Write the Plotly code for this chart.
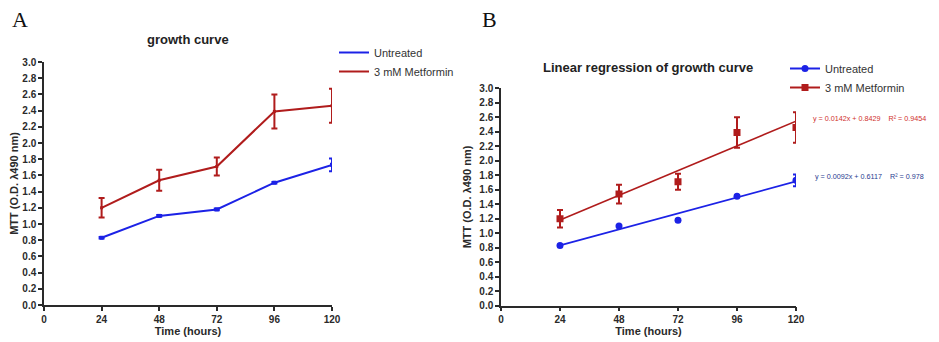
import plotly.graph_objects as go

# ---- data ----
hours = [24, 48, 72, 96, 120]
untreated = [0.83, 1.10, 1.18, 1.51, 1.73]
untreated_err = [0.01, 0.01, 0.01, 0.01, 0.08]
metformin = [1.20, 1.54, 1.71, 2.39, 2.46]
metformin_err = [0.12, 0.13, 0.11, 0.21, 0.21]
x_ticks = [0, 24, 48, 72, 96, 120]
y_ticks = [round(0.2 * i, 1) for i in range(16)]
# regression equations printed on the chart
fit_x = [24, 120]
red_slope, red_int, red_r2 = 0.0142, 0.8429, "0.9454"
blue_slope, blue_int, blue_r2 = 0.0092, 0.6117, "0.978"

BLUE = "#1c22e6"
RED = "#b01c1c"
AX = "#2a2a2a"
FONT = "Liberation Sans, Arial, sans-serif"

# page body has an 8px margin; lay out in window pixel coordinates
OFF = 8
W, H = 939 - OFF, 342 - OFF
def px(x):
    return (x - OFF) / W
def py(y):
    return 1 - (y - OFF) / H

fig = go.Figure()

# ---- Panel A ----
fig.add_trace(go.Scatter(
    x=hours, y=untreated, mode="lines+markers", showlegend=False,
    line=dict(color=BLUE, width=2), marker=dict(symbol="square", size=4, color=BLUE),
    error_y=dict(type="data", array=untreated_err, color=BLUE, thickness=2, width=3),
    xaxis="x", yaxis="y"))
fig.add_trace(go.Scatter(
    x=hours, y=metformin, mode="lines+markers", showlegend=False,
    line=dict(color=RED, width=2), marker=dict(symbol="square", size=3, color=RED),
    error_y=dict(type="data", array=metformin_err, color=RED, thickness=2, width=3),
    xaxis="x", yaxis="y"))
fig.add_trace(go.Scatter(
    x=[None], y=[None], mode="lines", name="Untreated",
    line=dict(color=BLUE, width=2), xaxis="x", yaxis="y", legend="legend"))
fig.add_trace(go.Scatter(
    x=[None], y=[None], mode="lines", name="3 mM Metformin",
    line=dict(color=RED, width=2), xaxis="x", yaxis="y", legend="legend"))

# ---- Panel B ----
fig.add_trace(go.Scatter(
    x=fit_x, y=[blue_slope * v + blue_int for v in fit_x], mode="lines",
    line=dict(color=BLUE, width=1.6), showlegend=False, xaxis="x2", yaxis="y2"))
fig.add_trace(go.Scatter(
    x=fit_x, y=[red_slope * v + red_int for v in fit_x], mode="lines",
    line=dict(color=RED, width=1.6), showlegend=False, xaxis="x2", yaxis="y2"))
fig.add_trace(go.Scatter(
    x=hours, y=untreated, mode="markers", showlegend=False,
    marker=dict(symbol="circle", size=7, color=BLUE),
    error_y=dict(type="data", array=untreated_err, color=BLUE, thickness=2, width=3),
    xaxis="x2", yaxis="y2"))
fig.add_trace(go.Scatter(
    x=hours, y=metformin, mode="markers", showlegend=False,
    marker=dict(symbol="square", size=7, color=RED),
    error_y=dict(type="data", array=metformin_err, color=RED, thickness=2, width=3),
    xaxis="x2", yaxis="y2"))
# legend entries for B
fig.add_trace(go.Scatter(
    x=[None], y=[None], mode="lines+markers", name="Untreated",
    line=dict(color=BLUE, width=2), marker=dict(symbol="circle", size=7, color=BLUE),
    xaxis="x2", yaxis="y2", legend="legend2"))
fig.add_trace(go.Scatter(
    x=[None], y=[None], mode="lines+markers", name="3 mM Metformin",
    line=dict(color=RED, width=2), marker=dict(symbol="square", size=7, color=RED),
    xaxis="x2", yaxis="y2", legend="legend2"))

tickfont = dict(family=FONT, size=10, color=AX, weight="bold")
titlefont = dict(family=FONT, size=11, color=AX, weight="bold")

def xaxis(domain, anchor):
    return dict(domain=domain, anchor=anchor, range=[0, 120], tickvals=x_ticks,
                ticktext=[str(t) for t in x_ticks], showgrid=False, zeroline=False,
                showline=True, linecolor=AX, linewidth=1.5, ticks="outside",
                ticklen=4, tickwidth=1.5, tickcolor=AX, tickfont=tickfont,
                automargin=False,
                title=dict(text="Time (hours)", font=titlefont, standoff=3))

def yaxis(domain, anchor):
    return dict(domain=domain, anchor=anchor, range=[0, 3.0], tickvals=y_ticks,
                ticktext=[f"{t:.1f}" for t in y_ticks], showgrid=False, zeroline=False,
                showline=True, linecolor=AX, linewidth=1.5, ticks="outside",
                ticklen=4, tickwidth=1.5, tickcolor=AX, tickfont=tickfont,
                automargin=False,
                title=dict(text="MTT (O.D. λ490 nm)", font=titlefont, standoff=5))

fig.update_layout(
    width=W, height=H, margin=dict(l=0, r=0, t=0, b=0, autoexpand=False),
    paper_bgcolor="white", plot_bgcolor="rgba(0,0,0,0)",
    xaxis=xaxis([px(44), px(332)], "y"),
    yaxis=yaxis([py(305), py(62)], "x"),
    xaxis2=xaxis([px(501), px(796)], "y2"),
    yaxis2=yaxis([py(305.7), py(88.3)], "x2"),
    legend=dict(x=px(334), y=py(38), xanchor="left", yanchor="top",
                font=dict(family=FONT, size=11, color="#333"), itemwidth=30,
                tracegroupgap=0, bgcolor="rgba(0,0,0,0)"),
    legend2=dict(x=px(785), y=py(54), xanchor="left", yanchor="top",
                 font=dict(family=FONT, size=11, color="#333"), itemwidth=30,
                 tracegroupgap=0, bgcolor="rgba(0,0,0,0)"),
    showlegend=True,
)

ann = [
    dict(text="A", x=px(10), y=py(20), xanchor="left", yanchor="middle",
         font=dict(family="Liberation Serif, Times New Roman, serif", size=22, color="#111")),
    dict(text="B", x=px(480), y=py(20), xanchor="left", yanchor="middle",
         font=dict(family="Liberation Serif, Times New Roman, serif", size=22, color="#111")),
    dict(text="growth curve", x=px(188), y=py(39), xanchor="center", yanchor="middle",
         font=dict(family=FONT, size=13, color="#222", weight="bold")),
    dict(text="Linear regression of growth curve", x=px(648), y=py(68), xanchor="center",
         yanchor="middle", font=dict(family=FONT, size=13, color="#222", weight="bold")),
    dict(text=f"y = {red_slope}x + {red_int}    R² = {red_r2}", x=px(811), y=py(118),
         xanchor="left", yanchor="middle", font=dict(family=FONT, size=7.2, color="#d0302c")),
    dict(text=f"y = {blue_slope}x + {blue_int}    R² = {blue_r2}", x=px(813), y=py(176),
         xanchor="left", yanchor="middle", font=dict(family=FONT, size=7.2, color="#2a3b8f")),
]
for a in ann:
    a.update(xref="paper", yref="paper", showarrow=False)
fig.update_layout(annotations=ann)

fig.write_html("out.html")
